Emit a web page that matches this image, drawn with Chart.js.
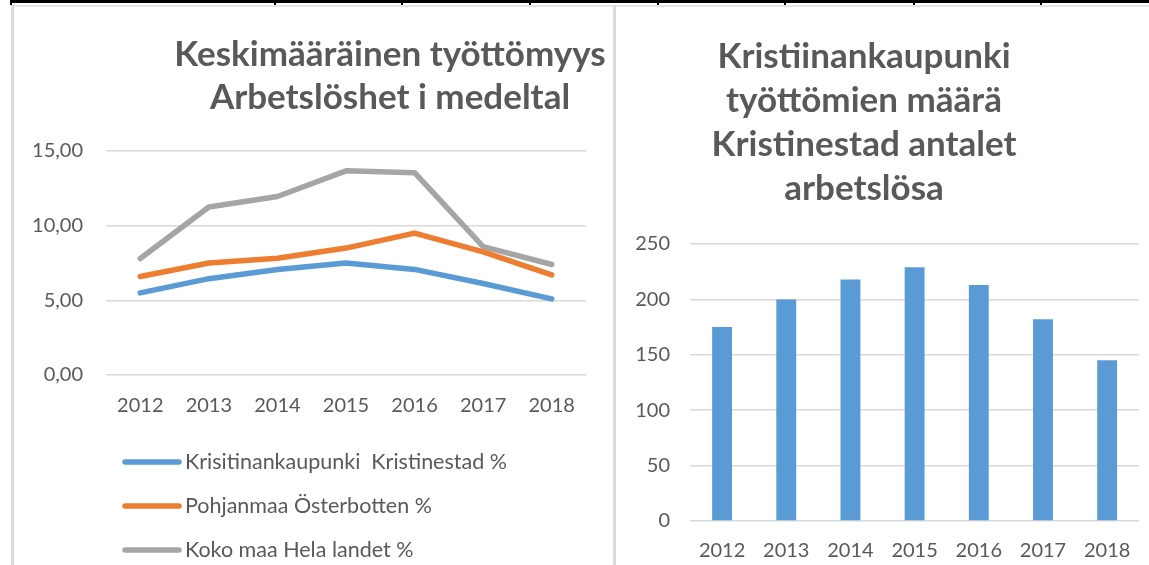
<!DOCTYPE html>
<html><head><meta charset="utf-8">
<script src="https://cdn.jsdelivr.net/npm/chart.js@4.4.0/dist/chart.umd.min.js"></script>
<style>
html,body{margin:0;padding:0;background:#fff;}
#page{position:relative;width:1149px;height:565px;overflow:hidden;background:#fff;}
.blk{position:absolute;background:#000;}
.gry{position:absolute;background:#dadada;}
#c1{position:absolute;left:14px;top:7px;}
#c2{position:absolute;left:616px;top:7px;}
</style></head>
<body>
<div id="page">
  <div class="blk" style="left:10px;top:0;width:1139px;height:3px"></div>
  <div class="blk" style="left:10px;top:0;width:2px;height:5px"></div>
  <div class="blk" style="left:274px;top:0;width:2px;height:5px"></div>
  <div class="blk" style="left:401px;top:0;width:2px;height:5px"></div>
  <div class="blk" style="left:529px;top:0;width:2px;height:5px"></div>
  <div class="blk" style="left:657px;top:0;width:2px;height:5px"></div>
  <div class="blk" style="left:784px;top:0;width:2px;height:5px"></div>
  <div class="blk" style="left:913px;top:0;width:2px;height:5px"></div>
  <div class="blk" style="left:1040px;top:0;width:2px;height:5px"></div>
  <div class="gry" style="left:11px;top:5px;width:1138px;height:2px;background:#e6e6e6"></div>
  <div class="gry" style="left:11px;top:5px;width:3px;height:560px"></div>
  <div class="gry" style="left:613px;top:5px;width:3px;height:560px"></div>
  <canvas id="c1" width="599" height="558"></canvas>
  <canvas id="c2" width="533" height="558"></canvas>
</div>
<script>
// ---- data ----
const years = ['2012', '2013', '2014', '2015', '2016', '2017', '2018'];
const kristinestadPct = [5.50, 6.45, 7.07, 7.50, 7.07, 6.13, 5.10];
const osterbottenPct  = [6.60, 7.50, 7.82, 8.50, 9.50, 8.25, 6.70];
const helaLandetPct   = [7.80, 11.25, 11.95, 13.67, 13.55, 8.60, 7.40];
const arbetslosa = [175, 200, 218, 229, 213, 182, 145];

const seriesLabels = ['Krisitinankaupunki  Kristinestad %', 'Pohjanmaa Österbotten %', 'Koko maa Hela landet %'];
const leftTitle = ['Keskimääräinen työttömyys', 'Arbetslöshet i medeltal'];
const rightTitle = ['Kristiinankaupunki', 'työttömien määrä', 'Kristinestad antalet', 'arbetslösa'];
const leftTicks = [0, 5, 10, 15];
const rightTicks = [0, 50, 100, 150, 200, 250];

const TXT = '#595959';
const GRID = '#d9d9d9';
const FONT = 'Lato';
Chart.defaults.font.family = FONT;
Chart.defaults.color = TXT;

function overlay(cfg) {
  return {
    id: 'overlay',
    afterDraw(chart) {
      const ctx = chart.ctx;
      ctx.save();
      if (cfg.title) {
        const T = cfg.title;
        ctx.font = T.font; ctx.fillStyle = TXT; ctx.textAlign = 'center'; ctx.textBaseline = 'middle';
        T.lines.forEach((t, i) => ctx.fillText(t, T.x, T.y + i * T.lineHeight));
      }
      if (cfg.legend) {
        const L = cfg.legend;
        chart.data.datasets.forEach((ds, i) => {
          const y = L.y + i * L.rowGap;
          ctx.strokeStyle = ds.borderColor; ctx.lineWidth = L.lineWidth; ctx.lineCap = 'round';
          ctx.beginPath(); ctx.moveTo(L.x, y); ctx.lineTo(L.x + L.lineLen, y); ctx.stroke();
          ctx.font = L.font; ctx.fillStyle = TXT; ctx.textAlign = 'left'; ctx.textBaseline = 'middle';
          ctx.fillText(ds.label, L.x + L.lineLen + L.gap, y);
        });
      }
      ctx.restore();
    }
  };
}

const lineDs = (label, data, color) => ({
  label, data, borderColor: color, backgroundColor: color, borderWidth: 5.5,
  pointRadius: 0, tension: 0, borderCapStyle: 'round', borderJoinStyle: 'round', fill: false
});

new Chart(document.getElementById('c1'), {
  type: 'line',
  data: {
    labels: years,
    datasets: [
      lineDs(seriesLabels[0], kristinestadPct, '#5B9BD5'),
      lineDs(seriesLabels[1], osterbottenPct, '#ED7D31'),
      lineDs(seriesLabels[2], helaLandetPct, '#A5A5A5')
    ]
  },
  options: {
    responsive: false, animation: false, devicePixelRatio: 1,
    layout: { padding: { left: 0, right: 27, top: 144, bottom: 130 } },
    plugins: { legend: { display: false }, title: { display: false }, tooltip: { enabled: false } },
    scales: {
      x: {
        offset: true,
        grid: { display: false, drawTicks: false },
        border: { display: false },
        ticks: { padding: 19, font: { size: 20 }, color: TXT, maxRotation: 0 },
        afterFit(s) { s.height = 60; }
      },
      y: {
        min: 0, max: 15,
        afterBuildTicks(s) { s.ticks = leftTicks.map(v => ({ value: v })); },
        grid: { color: GRID, lineWidth: 1.5, drawTicks: false },
        border: { display: false },
        ticks: { padding: 23, font: { size: 20 }, color: TXT, callback: v => Number(v).toFixed(2).replace('.', ',') },
        afterFit(s) { s.width = 92; }
      }
    }
  },
  plugins: [overlay({
    title: { lines: leftTitle, x: 376, y: 48, lineHeight: 43, font: 'bold 35px ' + FONT },
    legend: { x: 111, y: 455, rowGap: 44, lineLen: 54, gap: 6, lineWidth: 5.5, font: '21.5px ' + FONT }
  })]
});

new Chart(document.getElementById('c2'), {
  type: 'bar',
  data: {
    labels: years,
    datasets: [{ label: 'Kristinestad antalet arbetslösa', data: arbetslosa, backgroundColor: '#5B9BD5', borderWidth: 0,
      barPercentage: 0.62, categoryPercentage: 0.5 }]
  },
  options: {
    responsive: false, animation: false, devicePixelRatio: 1,
    layout: { padding: { left: 0, right: 9, top: 237, bottom: 0 } },
    plugins: { legend: { display: false }, title: { display: false }, tooltip: { enabled: false } },
    scales: {
      x: {
        grid: { display: false, drawTicks: false },
        border: { display: false },
        ticks: { padding: 18, font: { size: 20 }, color: TXT, maxRotation: 0 },
        afterFit(s) { s.height = 44; }
      },
      y: {
        min: 0, max: 250,
        afterBuildTicks(s) { s.ticks = rightTicks.map(v => ({ value: v })); },
        grid: { color: GRID, lineWidth: 1.5, drawTicks: false },
        border: { display: false },
        ticks: { padding: 20, font: { size: 20 }, color: TXT },
        afterFit(s) { s.width = 74; }
      }
    }
  },
  plugins: [overlay({
    title: { lines: rightTitle, x: 248, y: 50, lineHeight: 44, font: 'bold 35px ' + FONT }
  })]
});
</script>
</body></html>
